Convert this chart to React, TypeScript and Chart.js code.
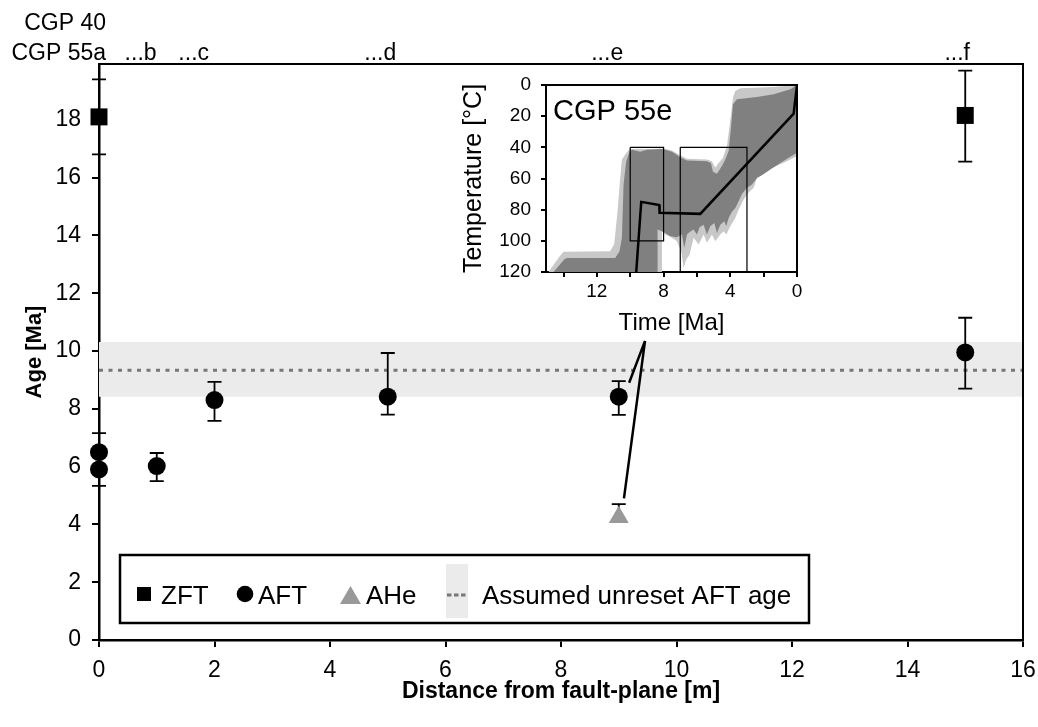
import React, { useEffect, useRef } from 'react';
import { Chart, registerables } from 'chart.js';
Chart.register(...registerables);

// ---------- main chart data ----------
const zftDistance = [0, 15];
const zftAge = [18.1, 18.15];
const zftErrLow = [16.8, 16.55];
const zftErrHigh = [19.4, 19.7];

const aftDistance = [0, 0, 1, 2, 5, 9, 15];
const aftAge = [6.5, 5.9, 6.02, 8.3, 8.42, 8.42, 9.95];
const aftErrLow = [5.85, 5.33, 5.5, 7.58, 7.8, 7.79, 8.7];
const aftErrHigh = [7.16, 6.45, 6.47, 8.93, 9.93, 8.96, 11.15];

const aheDistance = [9];
const aheAge = [4.25];
const aheErrLow = [4.1];
const aheErrHigh = [4.7];

const unresetAge = 9.33;
const unresetLow = 8.42;
const unresetHigh = 10.31;

const headerLabels = ['CGP 40', 'CGP 55a'];
const sampleLabels = ['...b', '...c', '...d', '...e', '...f'];
const sampleLabelX = [0.72, 1.64, 4.87, 8.8, 14.86];

const xTicks = [0, 2, 4, 6, 8, 10, 12, 14, 16];
const yTicks = [0, 2, 4, 6, 8, 10, 12, 14, 16, 18];

// leader line from inset to sample e (data coordinates)
const leaderApex = { x: 9.455, y: 10.35 };
const leaderEnds = [{ x: 9.18, y: 8.9 }, { x: 9.09, y: 4.9 }];

// ---------- inset (CGP 55e thermal history) ----------
const pathTime = [9.64, 9.34, 8.26, 8.24, 5.8, 0.2, 0];
const pathTemp = [120, 75, 77, 82, 82.7, 18.4, 0];

const box1Time = [10, 8, 8, 10, 10];
const box1Temp = [40, 40, 100, 100, 40];
const box2Time = [7, 3, 3, 7, 7];
const box2Temp = [40, 40, 120, 120, 40];

const acceptTime = [14.9, 14.24, 14.0, 11.2, 10.96, 10.76, 10.6, 10.5, 10.3, 10.04, 9.4, 8.8, 8.04, 7.5, 7.0, 6.6, 5.4, 5.1, 4.9, 4.7, 4.44, 4.2, 4.0, 3.84, 3.7, 3.4, 1.4, 0,
  0, 0.6, 1.1, 2.1, 2.4, 2.6, 2.9, 3.2, 3.5, 3.7, 4.0, 4.24, 4.4, 4.6, 4.9, 5.1, 5.4, 5.6, 5.9, 6.2, 6.44, 6.64, 6.8, 6.92, 7.2, 7.5, 7.9, 8.1, 8.1];
const acceptTemp = [120, 110, 107, 106.7, 102, 81, 59.6, 47.8, 44.6, 41, 41, 41, 40.7, 42, 45, 47.4, 47.8, 48.9, 53, 50, 46.7, 39, 23, 8, 3.9, 2.1, 1.3, 0,
  45.6, 48.9, 51.4, 56, 59.6, 66, 69, 73.5, 80, 85.3, 90.6, 96, 93.9, 96, 100.3, 96, 101.3, 96, 102.4, 98, 108.9, 112, 117.4, 107.8, 100.3, 98, 96, 93.9, 120];

const goodTime = [14.6, 13.96, 13.8, 10.9, 10.64, 10.5, 10.4, 10.24, 10.04, 9.9, 9.4, 9.0, 8.04, 7.5, 7.0, 6.6, 5.4, 5.16, 5.04, 4.8, 4.5, 4.3, 4.1, 3.96, 3.84, 3.6, 2.4, 1.4, 0.4, 0,
  0, 0.5, 1.0, 1.6, 2.1, 2.4, 2.7, 3.0, 3.3, 3.5, 3.7, 3.9, 4.1, 4.24, 4.36, 4.6, 4.8, 4.96, 5.2, 5.4, 5.6, 5.84, 6.0, 6.2, 6.44, 6.6, 6.76, 6.9, 7.2, 7.6, 8.0, 8.36, 8.36];
const goodTemp = [120, 112, 111, 111, 106.7, 98, 63.9, 48.9, 42.9, 41.6, 42.9, 41.6, 41, 42.9, 46.3, 48.4, 48.9, 50, 55.7, 57, 52, 47.8, 42.4, 27.4, 12.4, 9.2, 7.7, 6, 2.8, 0,
  43.5, 46.7, 50, 54.2, 57.9, 59.6, 63.9, 66, 69.9, 74.6, 78.9, 81.4, 85.3, 90.6, 87.4, 89.6, 94.9, 88.5, 90.6, 96, 89.6, 91.3, 96, 92.8, 94.3, 96, 104.6, 96, 97.7, 97, 94.3, 92.8, 120];

const insetTimeTicks = [0, 2, 4, 6, 8, 10, 12, 14];
const insetTempTicks = [0, 20, 40, 60, 80, 100, 120];

const FONT = "'Liberation Sans', Arial, sans-serif";

const pts = (xs: number[], ys: number[]) => xs.map((x, i) => ({ x, y: ys[i] }));

const fixSize = (prop: 'width' | 'height', v: number) => (s: any) => {
  s[prop] = v;
  s.paddingLeft = 0;
  s.paddingRight = 0;
  s.paddingTop = 0;
  s.paddingBottom = 0;
};

function drawErrorBars(chart: any, xs: number[], lows: number[], highs: number[]) {
  const { ctx } = chart;
  const sx = chart.scales.x;
  const sy = chart.scales.y;
  ctx.save();
  ctx.strokeStyle = '#000';
  ctx.lineWidth = 1.8;
  ctx.beginPath();
  xs.forEach((x, i) => {
    const px = sx.getPixelForValue(x);
    const pl = sy.getPixelForValue(lows[i]);
    const ph = sy.getPixelForValue(highs[i]);
    ctx.moveTo(px, pl);
    ctx.lineTo(px, ph);
    ctx.moveTo(px - 7, pl);
    ctx.lineTo(px + 7, pl);
    ctx.moveTo(px - 7, ph);
    ctx.lineTo(px + 7, ph);
  });
  ctx.stroke();
  ctx.restore();
}

const mainPlugin = {
  id: 'mainDeco',
  beforeDatasetDraw(chart: any, args: any) {
    if (chart.data.datasets[args.index].label !== 'AHe') return;
    drawErrorBars(chart, zftDistance, zftErrLow, zftErrHigh);
    drawErrorBars(chart, aftDistance, aftErrLow, aftErrHigh);
    drawErrorBars(chart, aheDistance, aheErrLow, aheErrHigh);
  },
  afterDatasetsDraw(chart: any) {
    const { ctx } = chart;
    const sx = chart.scales.x;
    const sy = chart.scales.y;
    ctx.save();
    ctx.strokeStyle = '#000';
    ctx.lineWidth = 2.5;
    ctx.beginPath();
    leaderEnds.forEach((e) => {
      ctx.moveTo(sx.getPixelForValue(leaderApex.x), sy.getPixelForValue(leaderApex.y));
      ctx.lineTo(sx.getPixelForValue(e.x), sy.getPixelForValue(e.y));
    });
    ctx.stroke();
    ctx.restore();
  },
  afterDraw(chart: any) {
    const { ctx, chartArea } = chart;
    const sx = chart.scales.x;
    ctx.save();
    // top & right frame
    ctx.strokeStyle = '#000';
    ctx.lineWidth = 2;
    ctx.beginPath();
    ctx.moveTo(chartArea.left - 1, chartArea.top);
    ctx.lineTo(chartArea.right, chartArea.top);
    ctx.lineTo(chartArea.right, chartArea.bottom + 1);
    ctx.stroke();

    // header labels
    ctx.fillStyle = '#000';
    ctx.font = `23px ${FONT}`;
    ctx.textBaseline = 'alphabetic';
    ctx.textAlign = 'right';
    ctx.fillText(headerLabels[0], 106, 30);
    ctx.fillText(headerLabels[1], 106, 60);
    ctx.textAlign = 'center';
    sampleLabels.forEach((t, i) => ctx.fillText(t, sx.getPixelForValue(sampleLabelX[i]), 60));

    // axis titles
    ctx.font = `bold 23px ${FONT}`;
    ctx.textBaseline = 'middle';
    ctx.fillText('Distance from fault-plane [m]', (chartArea.left + chartArea.right) / 2, 692);
    ctx.save();
    ctx.translate(35, (chartArea.top + chartArea.bottom) / 2);
    ctx.rotate(-Math.PI / 2);
    ctx.font = `bold 22px ${FONT}`;
    ctx.fillText('Age [Ma]', 0, 0);
    ctx.restore();

    // legend
    const L = 120, T = 555, R = 809, B = 623;
    ctx.fillStyle = '#fff';
    ctx.fillRect(L, T, R - L, B - T);
    ctx.lineWidth = 2.5;
    ctx.strokeStyle = '#000';
    ctx.strokeRect(L, T, R - L, B - T);
    const cy = 594;
    ctx.fillStyle = '#000';
    ctx.fillRect(137, cy - 7, 14, 14);
    ctx.beginPath();
    ctx.arc(245, cy, 8.3, 0, Math.PI * 2);
    ctx.fill();
    ctx.fillStyle = '#999';
    ctx.beginPath();
    ctx.moveTo(350.5, 586);
    ctx.lineTo(361, 604);
    ctx.lineTo(340, 604);
    ctx.closePath();
    ctx.fill();
    ctx.fillStyle = '#ebebeb';
    ctx.fillRect(446, 564, 22, 54);
    ctx.strokeStyle = '#777';
    ctx.lineWidth = 3;
    ctx.setLineDash([4.5, 2.5]);
    ctx.beginPath();
    ctx.moveTo(447, 595);
    ctx.lineTo(467, 595);
    ctx.stroke();
    ctx.setLineDash([]);
    ctx.fillStyle = '#000';
    ctx.font = `26px ${FONT}`;
    ctx.textAlign = 'left';
    ctx.textBaseline = 'alphabetic';
    ctx.fillText('ZFT', 161, 604);
    ctx.fillText('AFT', 258, 604);
    ctx.fillText('AHe', 366, 604);
    ctx.fillText('Assumed unreset AFT age', 482, 604);
    ctx.restore();
  },
};

const insetPlugin = {
  id: 'insetDeco',
  beforeDatasetsDraw(chart: any) {
    const { ctx } = chart;
    const sx = chart.scales.x;
    const sy = chart.scales.y;
    const poly = (ts: number[], vs: number[], color: string) => {
      ctx.fillStyle = color;
      ctx.beginPath();
      ts.forEach((t, i) => {
        const px = sx.getPixelForValue(t);
        const py = sy.getPixelForValue(vs[i]);
        if (i === 0) ctx.moveTo(px, py);
        else ctx.lineTo(px, py);
      });
      ctx.closePath();
      ctx.fill();
    };
    ctx.save();
    poly(acceptTime, acceptTemp, '#c8c8c8');
    poly(goodTime, goodTemp, '#808080');
    ctx.restore();
  },
  afterDraw(chart: any) {
    const { ctx, chartArea } = chart;
    ctx.save();
    ctx.strokeStyle = '#000';
    ctx.lineWidth = 2;
    ctx.beginPath();
    ctx.moveTo(chartArea.left - 1, chartArea.top);
    ctx.lineTo(chartArea.right, chartArea.top);
    ctx.lineTo(chartArea.right, chartArea.bottom + 1);
    ctx.stroke();
    ctx.fillStyle = '#000';
    ctx.font = `29px ${FONT}`;
    ctx.textAlign = 'left';
    ctx.textBaseline = 'alphabetic';
    ctx.fillText('CGP 55e', 113, 50);
    ctx.font = `24px ${FONT}`;
    ctx.textAlign = 'center';
    ctx.fillText('Time [Ma]', (chartArea.left + chartArea.right) / 2, 260);
    ctx.save();
    ctx.translate(34, (chartArea.top + chartArea.bottom) / 2);
    ctx.rotate(-Math.PI / 2);
    ctx.textBaseline = 'middle';
    ctx.font = `25px ${FONT}`;
    ctx.fillText('Temperature [°C]', 0, 0);
    ctx.restore();
    ctx.restore();
  },
};

export default function App() {
  const mainRef = useRef<HTMLCanvasElement>(null);
  const insetRef = useRef<HTMLCanvasElement>(null);

  useEffect(() => {
    const main = new Chart(mainRef.current as HTMLCanvasElement, {
      type: 'scatter',
      data: {
        datasets: [
          {
            label: 'ZFT',
            data: pts(zftDistance, zftAge),
            pointStyle: 'rect',
            pointRadius: 12,
            backgroundColor: '#000',
            borderColor: '#000',
            borderWidth: 0,
            clip: false,
          } as any,
          {
            label: 'AFT',
            data: pts(aftDistance, aftAge),
            pointStyle: 'circle',
            pointRadius: 9,
            backgroundColor: '#000',
            borderColor: '#000',
            borderWidth: 0,
            clip: false,
          },
          {
            label: 'AHe',
            data: pts(aheDistance, aheAge),
            pointStyle: 'triangle',
            pointRadius: 11.5,
            backgroundColor: '#999',
            borderColor: '#999',
            borderWidth: 0,
            clip: false,
          },
          {
            type: 'line',
            label: 'unreset',
            data: [{ x: 0, y: unresetAge }, { x: 16, y: unresetAge }],
            borderColor: '#777',
            borderWidth: 3,
            borderDash: [4, 5.5],
            pointRadius: 0,
            fill: false,
          },
          {
            type: 'line',
            label: 'bandLow',
            data: [{ x: 0, y: unresetLow }, { x: 16, y: unresetLow }],
            borderColor: 'rgba(0,0,0,0)',
            borderWidth: 0,
            pointRadius: 0,
            fill: false,
          },
          {
            type: 'line',
            label: 'bandHigh',
            data: [{ x: 0, y: unresetHigh }, { x: 16, y: unresetHigh }],
            borderColor: 'rgba(0,0,0,0)',
            borderWidth: 0,
            pointRadius: 0,
            backgroundColor: '#ebebeb',
            fill: '-1',
          },
        ] as any,
      },
      options: {
        responsive: false,
        animation: false,
        events: [],
        layout: { padding: { top: 64, right: 15, left: 0, bottom: 0 } },
        plugins: { legend: { display: false }, tooltip: { enabled: false } },
        scales: {
          x: {
            type: 'linear',
            min: 0,
            max: 16,
            afterFit: fixSize('height', 87),
            afterBuildTicks: (s: any) => { s.ticks = xTicks.map((v) => ({ value: v })); },
            grid: { drawOnChartArea: false, drawTicks: true, tickLength: 7, color: '#000', lineWidth: 2 },
            border: { display: true, color: '#000', width: 2.5 },
            ticks: { color: '#000', font: { family: FONT, size: 23 }, padding: 10, maxRotation: 0, autoSkip: false },
          },
          y: {
            type: 'linear',
            min: 0,
            max: 19.93,
            afterFit: fixSize('width', 99),
            afterBuildTicks: (s: any) => { s.ticks = yTicks.map((v) => ({ value: v })); },
            grid: { drawOnChartArea: false, drawTicks: true, tickLength: 7, color: '#000', lineWidth: 2 },
            border: { display: true, color: '#000', width: 2.5 },
            ticks: { color: '#000', font: { family: FONT, size: 23 }, padding: 11, autoSkip: false },
          },
        },
      } as any,
      plugins: [mainPlugin],
    });

    const inset = new Chart(insetRef.current as HTMLCanvasElement, {
      type: 'scatter',
      data: {
        datasets: [
          {
            label: 'best path',
            data: pts(pathTime, pathTemp),
            showLine: true,
            borderColor: '#000',
            borderWidth: 2.5,
            pointRadius: 0,
            tension: 0,
          },
          {
            label: 'constraint 1',
            data: pts(box1Time, box1Temp),
            showLine: true,
            borderColor: '#000',
            borderWidth: 1.2,
            pointRadius: 0,
          },
          {
            label: 'constraint 2',
            data: pts(box2Time, box2Temp),
            showLine: true,
            borderColor: '#000',
            borderWidth: 1.2,
            pointRadius: 0,
          },
        ] as any,
      },
      options: {
        responsive: false,
        animation: false,
        events: [],
        layout: { padding: { top: 15, right: 13, left: 0, bottom: 0 } },
        plugins: { legend: { display: false }, tooltip: { enabled: false } },
        scales: {
          x: {
            type: 'linear',
            reverse: true,
            min: 0,
            max: 15.05,
            afterFit: fixSize('height', 68),
            afterBuildTicks: (s: any) => { s.ticks = insetTimeTicks.map((v) => ({ value: v })); },
            grid: { drawOnChartArea: false, drawTicks: true, tickLength: 5, color: '#000', lineWidth: 2 },
            border: { display: true, color: '#000', width: 2 },
            ticks: {
              color: '#000',
              font: { family: FONT, size: 19 },
              padding: 3,
              maxRotation: 0,
              autoSkip: false,
              callback: (v: any) => (Number(v) % 4 === 0 ? String(v) : ''),
            },
          },
          y: {
            type: 'linear',
            reverse: true,
            min: 0,
            max: 120,
            afterFit: fixSize('width', 106),
            afterBuildTicks: (s: any) => { s.ticks = insetTempTicks.map((v) => ({ value: v })); },
            grid: { drawOnChartArea: false, drawTicks: true, tickLength: 5, color: '#000', lineWidth: 2 },
            border: { display: true, color: '#000', width: 2 },
            ticks: { color: '#000', font: { family: FONT, size: 19 }, padding: 10, autoSkip: false },
          },
        },
      } as any,
      plugins: [insetPlugin],
    });

    return () => {
      main.destroy();
      inset.destroy();
    };
  }, []);

  return (
    <div style={{ position: 'absolute', left: 0, top: 0, width: 1038, height: 727, background: '#fff' }}>
      <canvas ref={mainRef} width={1038} height={727} style={{ position: 'absolute', left: 0, top: 0, display: 'block' }} />
      <canvas ref={insetRef} width={370} height={270} style={{ position: 'absolute', left: 440, top: 70, display: 'block' }} />
    </div>
  );
}
